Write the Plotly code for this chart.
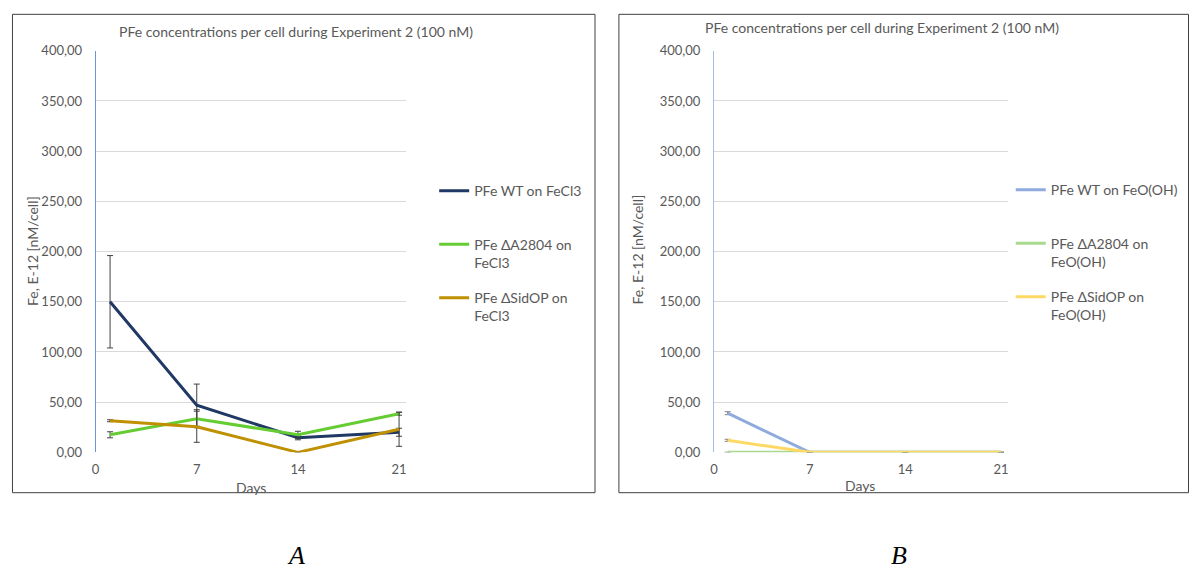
import plotly.graph_objects as go

W, H = 1190, 578

days = [1, 7, 14, 21]
x_ticks = [0, 7, 14, 21]
y_ticks = [0, 50, 100, 150, 200, 250, 300, 350, 400]

title_text = "PFe concentrations per cell during Experiment 2 (100 nM)"
y_title = "Fe, E-12 [nM/cell]"
x_title = "Days"

# Panel A (FeCl3)
names_a = ["PFe WT on FeCl3<br> ", "PFe ΔA2804 on<br>FeCl3", "PFe ΔSidOP on<br>FeCl3"]
wt_fecl3 = [150.0, 47.0, 14.5, 20.0]
wt_fecl3_err = [46.0, 21.0, 2.0, 4.0]
a2804_fecl3 = [17.5, 33.5, 17.5, 38.5]
a2804_fecl3_err = [3.0, 9.0, 3.5, 1.5]
sidop_fecl3 = [31.5, 25.5, 0.0, 23.0]
sidop_fecl3_err = [1.0, 15.5, 0.0, 17.0]
colors_a = ["#203864", "#66CC33", "#BF9000"]

# Panel B (FeO(OH))
names_b = ["PFe WT on FeO(OH)<br> ", "PFe ΔA2804 on<br>FeO(OH)", "PFe ΔSidOP on<br>FeO(OH)"]
wt_feooh = [39.0, 0.0, 0.0, 0.0]
wt_feooh_err = [1.5, 0.0, 0.0, 0.0]
a2804_feooh = [0.0, 0.0, 0.0, 0.0]
a2804_feooh_err = [0.0, 0.0, 0.0, 0.0]
sidop_feooh = [12.0, 0.0, 0.0, 0.0]
sidop_feooh_err = [1.0, 0.0, 0.0, 0.0]
colors_b = ["#8FAADC", "#A9D98E", "#FFD966"]

FONT = "Lato"
GRAY = "#595959"

fig = go.Figure()

series_a = [(wt_fecl3, wt_fecl3_err), (a2804_fecl3, a2804_fecl3_err), (sidop_fecl3, sidop_fecl3_err)]
series_b = [(wt_feooh, wt_feooh_err), (a2804_feooh, a2804_feooh_err), (sidop_feooh, sidop_feooh_err)]

for i, (vals, err) in enumerate(series_a):
    fig.add_trace(go.Scatter(
        x=days, y=vals, mode="lines", name=names_a[i],
        line=dict(color=colors_a[i], width=3),
        error_y=dict(type="data", array=err, visible=True, color="#404040", thickness=1, width=3),
        xaxis="x", yaxis="y", legend="legend", legendgroup="a%d" % i,
    ))
for i, (vals, err) in enumerate(series_b):
    fig.add_trace(go.Scatter(
        x=days, y=vals, mode="lines", name=names_b[i],
        line=dict(color=colors_b[i], width=3),
        error_y=dict(type="data", array=err, visible=True, color="#808080", thickness=1, width=3),
        xaxis="x2", yaxis="y2", legend="legend2", legendgroup="b%d" % i,
    ))

def px(v):
    return v / W

def py(v):
    return 1 - v / H

ydom = [py(457), py(44)]

axis_common_x = dict(
    range=[0, 21.5], tickvals=x_ticks, showgrid=False, zeroline=False, showline=False,
    tickfont=dict(family=FONT, size=13, color=GRAY), ticks="", ticklabelstandoff=8,
    fixedrange=True,
)
axis_common_y = dict(
    range=[0, 400], tickvals=y_ticks, tickformat=".2f", showgrid=True, gridcolor="#D9D9D9",
    gridwidth=1, zeroline=False, showline=True, linewidth=1,
    tickfont=dict(family=FONT, size=13, color=GRAY), ticks="", ticklabelstandoff=10,
)

legend_common = dict(
    font=dict(family=FONT, size=14, color=GRAY), bgcolor="rgba(0,0,0,0)",
    tracegroupgap=14, itemwidth=30, xanchor="left", yanchor="top", itemclick=False,
    valign="top",
)

fig.update_layout(
    width=W, height=H, margin=dict(l=0, r=0, t=0, b=0),
    paper_bgcolor="white", plot_bgcolor="white",
    separators=", ",
    xaxis=dict(domain=[px(92), px(404)], anchor="y", **axis_common_x),
    yaxis=dict(domain=ydom, anchor="x", linecolor="#6F93D8", **axis_common_y),
    xaxis2=dict(domain=[px(713), px(1008)], anchor="y2", **axis_common_x),
    yaxis2=dict(domain=ydom, anchor="x2", linecolor="#A4BCE8", **axis_common_y),
    legend=dict(x=px(432), y=py(172), **legend_common),
    legend2=dict(x=px(1011), y=py(171), **legend_common),
    showlegend=True,
)

shapes = [
    dict(type="rect", xref="paper", yref="paper", x0=px(8.5), x1=px(593.5), y0=py(498.5), y1=py(6.5),
         line=dict(color="#404040", width=1)),
    dict(type="rect", xref="paper", yref="paper", x0=px(617.5), x1=px(1189.5), y0=py(498.5), y1=py(6.5),
         line=dict(color="#404040", width=1)),
]
fig.update_layout(shapes=shapes)

annotations = [
    dict(text=title_text, x=px(293), y=py(24), showarrow=False, xref="paper", yref="paper",
         font=dict(family=FONT, size=14, color=GRAY), xanchor="center", yanchor="middle"),
    dict(text=title_text, x=px(882), y=py(20), showarrow=False, xref="paper", yref="paper",
         font=dict(family=FONT, size=14, color=GRAY), xanchor="center", yanchor="middle"),
    dict(text=y_title, x=px(28), y=py(250), showarrow=False, xref="paper", yref="paper", textangle=-90,
         font=dict(family=FONT, size=14, color=GRAY), xanchor="center", yanchor="middle"),
    dict(text=y_title, x=px(636), y=py(248), showarrow=False, xref="paper", yref="paper", textangle=-90,
         font=dict(family=FONT, size=14, color=GRAY), xanchor="center", yanchor="middle"),
    dict(text=x_title, x=px(248), y=py(493), showarrow=False, xref="paper", yref="paper",
         font=dict(family=FONT, size=14, color=GRAY), xanchor="center", yanchor="middle"),
    dict(text=x_title, x=px(860), y=py(491), showarrow=False, xref="paper", yref="paper",
         font=dict(family=FONT, size=14, color=GRAY), xanchor="center", yanchor="middle"),
    dict(text="<i>A</i>", x=px(293), y=py(563), showarrow=False, xref="paper", yref="paper",
         font=dict(family="Liberation Serif", size=26, color="black"), xanchor="center", yanchor="middle"),
    dict(text="<i>B</i>", x=px(899), y=py(563), showarrow=False, xref="paper", yref="paper",
         font=dict(family="Liberation Serif", size=26, color="black"), xanchor="center", yanchor="middle"),
]
fig.update_layout(annotations=annotations)

post = ("document.body.style.margin='0';document.body.style.padding='0';"
        "document.documentElement.style.overflow='hidden';")
fig.write_html("out.html", post_script=post, config={"displayModeBar": False})
